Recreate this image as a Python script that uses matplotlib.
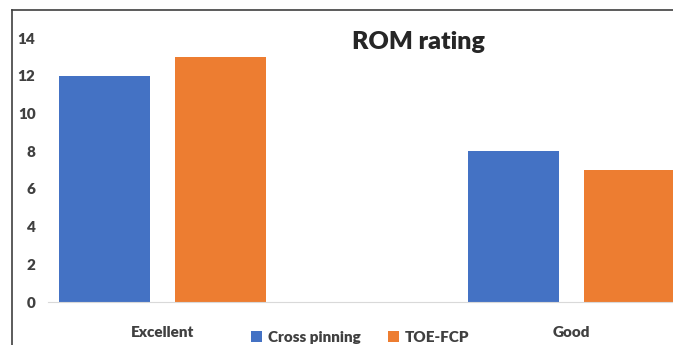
import matplotlib.pyplot as plt
from matplotlib.lines import Line2D

# data
categories = ["Excellent", "Good"]
cross_pinning = [12, 8]
toe_fcp = [13, 7]
series_names = ["Cross pinning", "TOE-FCP"]
y_ticks = [0, 2, 4, 6, 8, 10, 12, 14]

plt.rcParams["font.family"] = ["Lato", "DejaVu Sans"]

W, H = 673, 345
fig = plt.figure(figsize=(W / 100, H / 100), dpi=100)

# plot area runs past the right edge, like the cropped original
ax = fig.add_axes([48 / W, (H - 302) / H, 638 / W, 264 / H])

x = list(range(len(categories)))
width = 0.223
offset = 0.141
ax.bar([i - offset for i in x], cross_pinning, width, color="#4472C4",
       label=series_names[0])
ax.bar([i + offset for i in x], toe_fcp, width, color="#ED7D31",
       label=series_names[1])

ax.set_xlim(-0.28, 1.28)
ax.set_ylim(0, 14)
ax.set_yticks(y_ticks)
ax.set_xticks(x)
ax.set_xticklabels(categories)
ax.tick_params(axis="both", length=0, labelsize=11, colors="#404040")
ax.tick_params(axis="x", pad=17)
ax.tick_params(axis="y", pad=9)
for lab in ax.get_xticklabels() + ax.get_yticklabels():
    lab.set_fontweight("heavy")

for side in ["top", "right", "left"]:
    ax.spines[side].set_visible(False)
ax.spines["bottom"].set_color("#D9D9D9")

fig.text(418 / W, 1 - 42 / H, "ROM rating", ha="center", va="center",
         fontsize=18, fontweight="heavy", color="#262626")

leg = ax.legend(loc="center", bbox_to_anchor=(360 / W, 1 - 337 / H),
                bbox_transform=fig.transFigure, ncol=2, frameon=False,
                fontsize=11, handlelength=0.7, handleheight=0.7,
                handletextpad=0.4, columnspacing=1.8, borderpad=0.1)
for t in leg.get_texts():
    t.set_fontweight("heavy")
    t.set_color("#404040")

# chart border (only top and left visible in the crop)
fig.add_artist(Line2D([12 / W, 12 / W], [0, 1 - 10 / H],
                      transform=fig.transFigure, color="#404040", lw=1.2))
fig.add_artist(Line2D([12 / W, 1], [1 - 10 / H, 1 - 10 / H],
                      transform=fig.transFigure, color="#404040", lw=1.2))

fig.savefig("out.png", dpi=100)
